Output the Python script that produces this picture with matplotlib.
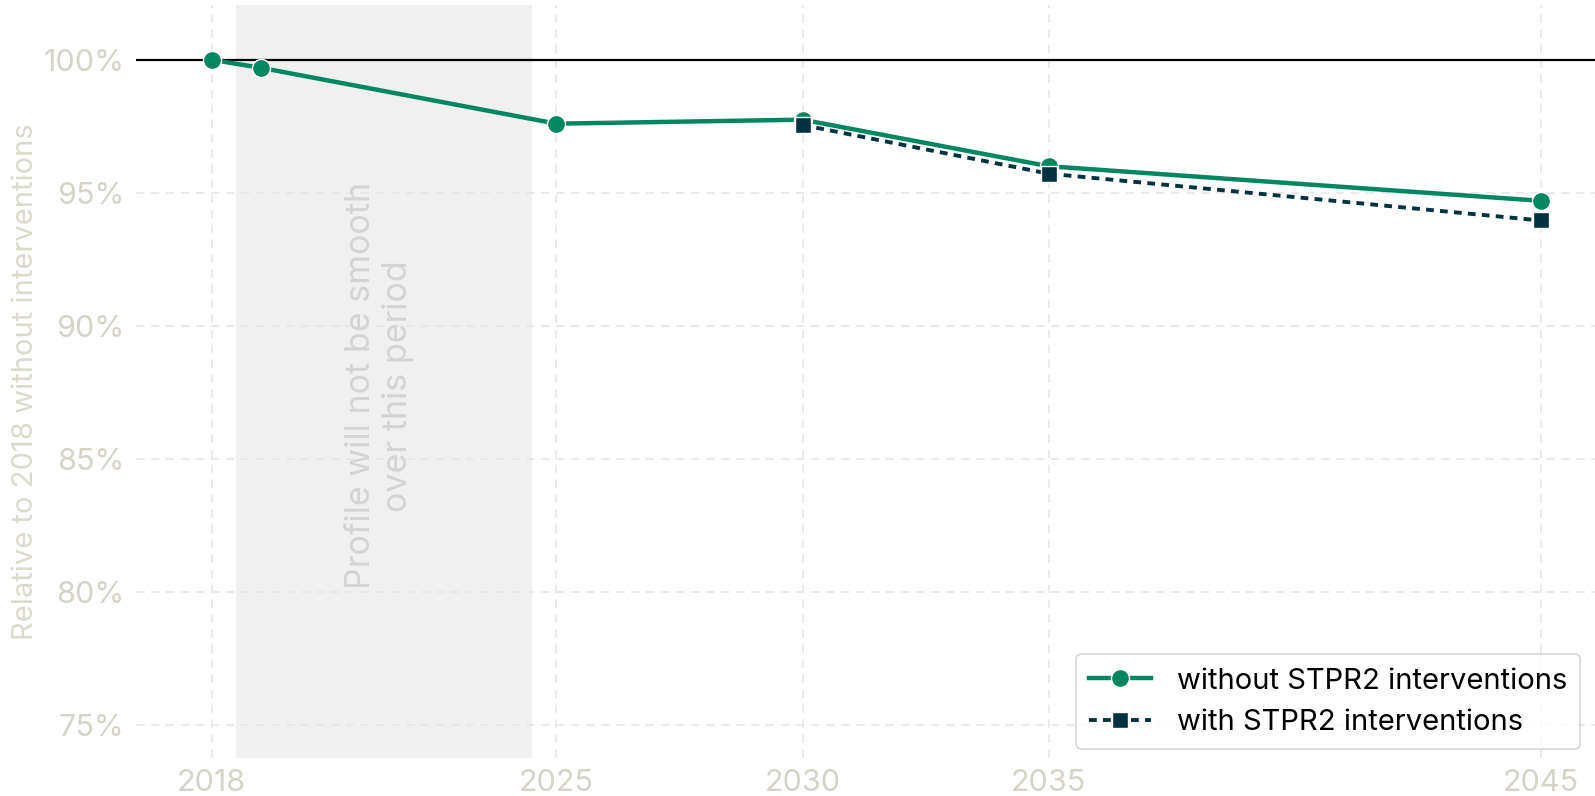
import matplotlib

matplotlib.use("Agg")
import matplotlib.pyplot as plt
from matplotlib.ticker import FuncFormatter

# data
years_without = [2018, 2019, 2025, 2030, 2035, 2045]
without_vals = [100.0, 99.7, 97.6, 97.75, 96.0, 94.7]
years_with = [2030, 2035, 2045]
with_vals = [97.55, 95.72, 93.96]
xticks = [2018, 2025, 2030, 2035, 2045]
yticks = [75, 80, 85, 90, 95, 100]
shade_span = (2018.5, 2024.5)

GREEN = "#00875f"
DARK = "#01323f"
TICK = "#d6d4c8"
GRID = "#e6e6e6"

plt.rcParams["font.family"] = ["Inter", "DejaVu Sans"]

fig = plt.figure(figsize=(15.95, 7.96), dpi=100)
ax = fig.add_axes([0.085, 0.048, 0.915, 0.946])

ax.axvspan(*shade_span, color="#f0f0f0", lw=0, zorder=0)
ax.axhline(100, color="black", lw=1.6, zorder=2)

ax.plot(years_without, without_vals, color=GREEN, lw=3.2, marker="o", ms=13,
        mec="white", mew=1.0, label="without STPR2 interventions", zorder=4)
ax.plot(years_with, with_vals, color=DARK, lw=2.8, ls=(0, (2, 1.6)), marker="s", ms=11.5,
        mec="white", mew=1.0, label="with STPR2 interventions", zorder=5)

ax.text(2021.4, 87.75, "Profile will not be smooth\nover this period", rotation=90,
        ha="center", va="center", multialignment="center", fontsize=24.5, color="#d4d4d4", zorder=1)

ax.set_xlim(2016.45, 2046.1)
ax.set_ylim(73.76, 102.07)
ax.set_xticks(xticks)
ax.set_yticks(yticks)
ax.yaxis.set_major_formatter(FuncFormatter(lambda v, _: f"{v:.0f}%"))
ax.tick_params(axis="both", length=0, labelsize=22, labelcolor=TICK, pad=8)
ax.grid(True, color=GRID, ls=(0, (5, 4)), lw=1.2, zorder=1)
ax.set_axisbelow(True)
for spine in ax.spines.values():
    spine.set_visible(False)

ax.set_ylabel("Relative to 2018 without interventions", fontsize=21, color="#dcdacd", labelpad=3)

leg = ax.legend(loc="lower right", fontsize=21, frameon=True, fancybox=True,
                borderpad=0.45, handlelength=2.1, handletextpad=0.9,
                bbox_to_anchor=(1.0, -0.008))
leg.get_frame().set_edgecolor("#cccccc")
leg.get_frame().set_linewidth(1.2)

fig.savefig("out.png", dpi=100)
